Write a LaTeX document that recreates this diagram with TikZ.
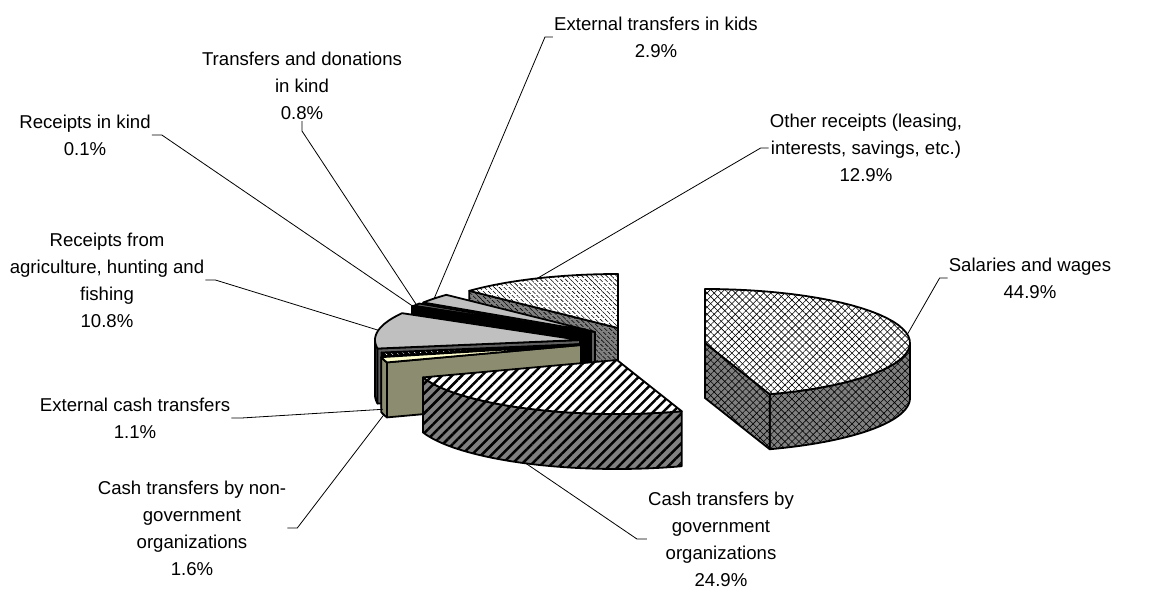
\documentclass[tikz,border=0pt]{standalone}
\usepackage{fontspec}
\setmainfont{Liberation Sans}
\usetikzlibrary{patterns.meta}
\definecolor{lgray}{RGB}{192,192,192}
\definecolor{dgray}{RGB}{96,96,96}
\definecolor{mgray}{RGB}{128,128,128}
\definecolor{cream}{RGB}{255,255,204}
\definecolor{khaki}{RGB}{140,140,112}
% rx=205, ry=54, height=55
\newcommand{\pietop}[5]{\path[#5] (#1,#2) -- plot[domain=#3:#4, samples=40] ({#1+205*cos(\x)},{#2-54*sin(\x)}) -- cycle;}
\newcommand{\pieside}[5]{\path[#5] plot[domain=#3:#4, samples=30] ({#1+205*cos(\x)},{#2-54*sin(\x)}) -- plot[domain=#4:#3, samples=30] ({#1+205*cos(\x)},{#2+55-54*sin(\x)}) -- cycle;}
\newcommand{\pieradial}[4]{\path[#4] (#1,#2) -- ({#1+205*cos(#3)},{#2-54*sin(#3)}) -- ++(0,55) -- (#1,#2+55) -- cycle;}
\tikzset{
lbl/.style={font=\fontsize{18.6}{27}\selectfont, align=center, inner sep=1pt},
leader/.style={draw, line width=0.8pt},
slice/.style={draw, line width=1.8pt, line join=round},
plain/.style={preaction={fill=#1}, slice},
lattice/.style={preaction={fill=#1},
  preaction={pattern={Lines[angle=45,distance=5pt,line width=.6pt]}},
  preaction={pattern={Lines[angle=-45,distance=5pt,line width=.6pt]}}, slice},
wide/.style={preaction={fill=#1},
  preaction={pattern={Lines[angle=45,distance=7pt,line width=2.5pt]}}, slice},
dashy/.style={preaction={fill=#1},
  preaction={pattern={Lines[angle=-45,distance=3.5pt,line width=.6pt]}},
  preaction={pattern={Lines[angle=0,distance=4pt,line width=1.3pt]}, pattern color=#1}, slice},
inverse/.style={preaction={fill=black},
  preaction={pattern={Lines[angle=-45,distance=4pt,line width=.8pt]}, pattern color=white}, slice}
}
\begin{document}
\begin{tikzpicture}[x=1pt, y=-1pt]
\useasboundingbox (0,0) rectangle (1163,590);
% slices, back to front
\pieradial{618}{328}{136.5}{dashy=mgray}
\pietop{618}{328}{90}{136.5}{dashy=white}
\pieradial{595}{332}{146.9}{plain=dgray}
\pietop{595}{332}{136.5}{146.9}{plain=lgray}
\pieradial{591}{333}{149.8}{plain=black}
\pietop{591}{333}{146.9}{149.8}{plain=dgray}
\pieradial{590}{333}{150.2}{plain=black}
\pietop{590}{333}{149.8}{150.2}{plain=black}
\pieside{580}{340}{180}{189.1}{plain=dgray}
\pieradial{580}{340}{189.1}{plain=dgray}
\pietop{580}{340}{150.2}{189.1}{plain=lgray}
\pieside{584}{344}{189.1}{193}{plain=black}
\pieradial{584}{344}{193}{plain=black}
\pietop{584}{344}{189.1}{193}{inverse}
\pieside{581}{345}{193}{198.8}{plain=khaki}
\pieradial{581}{345}{198.8}{plain=khaki}
\pietop{581}{345}{193}{198.8}{plain=cream}
\pieside{617}{360}{198.8}{288.4}{wide=mgray}
\pietop{617}{360}{198.8}{288.4}{wide=white}
\pieside{705}{343}{288.4}{360}{lattice=mgray}
\pieradial{705}{343}{288.4}{lattice=mgray}
\pietop{705}{343}{288.4}{450}{lattice=white}

% leader ends at the slices
\coordinate (ot) at ({618+205*cos(113.2)},{328-54*sin(113.2)});
\coordinate (ek) at ({595+205*cos(141.7)},{332-54*sin(141.7)});
\coordinate (td) at ({591+205*cos(148.4)},{333-54*sin(148.4)});
\coordinate (rk) at ({590+205*cos(150)},{333-54*sin(150)});
\coordinate (ag) at ({580+205*cos(169.6)},{340-54*sin(169.6)});
\coordinate (ec) at ({584+205*cos(191)},{344+55-54*sin(191)});
\coordinate (ng) at ({581+205*cos(195.9)},{345+55-54*sin(195.9)});
\coordinate (gv) at ({617+205*cos(243.6)},{360+55-54*sin(243.6)});
\coordinate (sa) at ({705+205*cos(9.2)},{343-54*sin(9.2)});

% labels
\node[lbl] (salary) at (1030,278) {Salaries and wages\\44.9\%};
\node[lbl] (gov) at (721,539) {Cash transfers by\\government\\organizations\\24.9\%};
\node[lbl] (ngo) at (192,528) {Cash transfers by non-\\government\\organizations\\1.6\%};
\node[lbl] (extcash) at (135,418) {External cash transfers\\1.1\%};
\node[lbl] (agri) at (107,280) {Receipts from\\agriculture, hunting and\\fishing\\10.8\%};
\node[lbl] (inkind) at (85,135) {Receipts in kind\\0.1\%};
\node[lbl] (donat) at (302,86) {Transfers and donations\\in kind\\0.8\%};
\node[lbl] (extkids) at (656,37) {External transfers in kids\\2.9\%};
\node[lbl] (other) at (866,148) {Other receipts (leasing,\\interests, savings, etc.)\\12.9\%};

\draw[leader] (salary.west) -- ++(-8,0) -- (sa);
\draw[leader] (gov.west) -- ++(-10,0) -- (gv);
\draw[leader] (ngo.east) -- ++(10,0) -- (ng);
\draw[leader] (extcash.east) -- ++(10,0) -- (ec);
\draw[leader] (agri.east) -- ++(10,0) -- (ag);
\draw[leader] (inkind.east) -- ++(10,0) -- (rk);
\draw[leader] (donat.south) -- ++(0,10) -- (td);
\draw[leader] (extkids.west) -- ++(-8,0) -- (ek);
\draw[leader] (other.west) -- ++(-8,0) -- (ot);
\end{tikzpicture}
\end{document}
